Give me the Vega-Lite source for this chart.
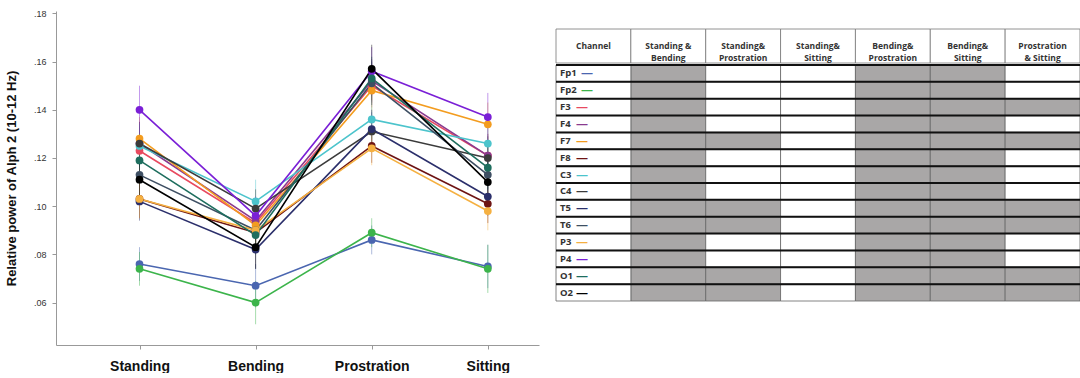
{
  "$schema": "https://vega.github.io/schema/vega-lite/v6.json",
  "padding": {"left": 5, "top": 9, "right": 0, "bottom": 0},
  "background": "white",
  "config": {"view": {"stroke": null}, "font": "Liberation Sans"},
  "datasets": {
    "power": [
      {"ch": "Fp1", "pos": "Standing", "v": 0.076, "lo": 0.069, "hi": 0.083},
      {"ch": "Fp1", "pos": "Bending", "v": 0.067, "lo": 0.058, "hi": 0.076},
      {"ch": "Fp1", "pos": "Prostration", "v": 0.086, "lo": 0.080, "hi": 0.092},
      {"ch": "Fp1", "pos": "Sitting", "v": 0.075, "lo": 0.066, "hi": 0.084},
      {"ch": "Fp2", "pos": "Standing", "v": 0.074, "lo": 0.067, "hi": 0.081},
      {"ch": "Fp2", "pos": "Bending", "v": 0.060, "lo": 0.051, "hi": 0.069},
      {"ch": "Fp2", "pos": "Prostration", "v": 0.089, "lo": 0.083, "hi": 0.095},
      {"ch": "Fp2", "pos": "Sitting", "v": 0.074, "lo": 0.064, "hi": 0.084},
      {"ch": "F3", "pos": "Standing", "v": 0.123, "lo": 0.113, "hi": 0.133},
      {"ch": "F3", "pos": "Bending", "v": 0.093, "lo": 0.085, "hi": 0.101},
      {"ch": "F3", "pos": "Prostration", "v": 0.150, "lo": 0.141, "hi": 0.159},
      {"ch": "F3", "pos": "Sitting", "v": 0.121, "lo": 0.112, "hi": 0.130},
      {"ch": "F4", "pos": "Standing", "v": 0.126, "lo": 0.117, "hi": 0.135},
      {"ch": "F4", "pos": "Bending", "v": 0.094, "lo": 0.086, "hi": 0.102},
      {"ch": "F4", "pos": "Prostration", "v": 0.152, "lo": 0.143, "hi": 0.161},
      {"ch": "F4", "pos": "Sitting", "v": 0.121, "lo": 0.112, "hi": 0.130},
      {"ch": "F7", "pos": "Standing", "v": 0.128, "lo": 0.119, "hi": 0.137},
      {"ch": "F7", "pos": "Bending", "v": 0.092, "lo": 0.084, "hi": 0.100},
      {"ch": "F7", "pos": "Prostration", "v": 0.148, "lo": 0.139, "hi": 0.157},
      {"ch": "F7", "pos": "Sitting", "v": 0.134, "lo": 0.125, "hi": 0.143},
      {"ch": "F8", "pos": "Standing", "v": 0.103, "lo": 0.095, "hi": 0.111},
      {"ch": "F8", "pos": "Bending", "v": 0.089, "lo": 0.081, "hi": 0.097},
      {"ch": "F8", "pos": "Prostration", "v": 0.125, "lo": 0.118, "hi": 0.132},
      {"ch": "F8", "pos": "Sitting", "v": 0.101, "lo": 0.093, "hi": 0.109},
      {"ch": "C3", "pos": "Standing", "v": 0.125, "lo": 0.116, "hi": 0.134},
      {"ch": "C3", "pos": "Bending", "v": 0.102, "lo": 0.093, "hi": 0.111},
      {"ch": "C3", "pos": "Prostration", "v": 0.136, "lo": 0.128, "hi": 0.144},
      {"ch": "C3", "pos": "Sitting", "v": 0.126, "lo": 0.117, "hi": 0.135},
      {"ch": "C4", "pos": "Standing", "v": 0.126, "lo": 0.117, "hi": 0.135},
      {"ch": "C4", "pos": "Bending", "v": 0.099, "lo": 0.091, "hi": 0.107},
      {"ch": "C4", "pos": "Prostration", "v": 0.131, "lo": 0.123, "hi": 0.139},
      {"ch": "C4", "pos": "Sitting", "v": 0.120, "lo": 0.111, "hi": 0.129},
      {"ch": "T5", "pos": "Standing", "v": 0.102, "lo": 0.094, "hi": 0.110},
      {"ch": "T5", "pos": "Bending", "v": 0.082, "lo": 0.074, "hi": 0.090},
      {"ch": "T5", "pos": "Prostration", "v": 0.132, "lo": 0.124, "hi": 0.140},
      {"ch": "T5", "pos": "Sitting", "v": 0.104, "lo": 0.096, "hi": 0.112},
      {"ch": "T6", "pos": "Standing", "v": 0.113, "lo": 0.104, "hi": 0.122},
      {"ch": "T6", "pos": "Bending", "v": 0.090, "lo": 0.082, "hi": 0.098},
      {"ch": "T6", "pos": "Prostration", "v": 0.151, "lo": 0.142, "hi": 0.160},
      {"ch": "T6", "pos": "Sitting", "v": 0.113, "lo": 0.104, "hi": 0.122},
      {"ch": "P3", "pos": "Standing", "v": 0.103, "lo": 0.095, "hi": 0.111},
      {"ch": "P3", "pos": "Bending", "v": 0.090, "lo": 0.082, "hi": 0.098},
      {"ch": "P3", "pos": "Prostration", "v": 0.124, "lo": 0.117, "hi": 0.131},
      {"ch": "P3", "pos": "Sitting", "v": 0.098, "lo": 0.090, "hi": 0.106},
      {"ch": "P4", "pos": "Standing", "v": 0.140, "lo": 0.130, "hi": 0.150},
      {"ch": "P4", "pos": "Bending", "v": 0.096, "lo": 0.088, "hi": 0.104},
      {"ch": "P4", "pos": "Prostration", "v": 0.156, "lo": 0.146, "hi": 0.166},
      {"ch": "P4", "pos": "Sitting", "v": 0.137, "lo": 0.127, "hi": 0.147},
      {"ch": "O1", "pos": "Standing", "v": 0.119, "lo": 0.110, "hi": 0.128},
      {"ch": "O1", "pos": "Bending", "v": 0.088, "lo": 0.080, "hi": 0.096},
      {"ch": "O1", "pos": "Prostration", "v": 0.153, "lo": 0.144, "hi": 0.162},
      {"ch": "O1", "pos": "Sitting", "v": 0.116, "lo": 0.107, "hi": 0.125},
      {"ch": "O2", "pos": "Standing", "v": 0.111, "lo": 0.102, "hi": 0.120},
      {"ch": "O2", "pos": "Bending", "v": 0.083, "lo": 0.074, "hi": 0.092},
      {"ch": "O2", "pos": "Prostration", "v": 0.157, "lo": 0.147, "hi": 0.167},
      {"ch": "O2", "pos": "Sitting", "v": 0.110, "lo": 0.101, "hi": 0.119}
    ],
    "sig": [
      {"ch": "Fp1", "SB": 1, "SP": 0, "SS": 0, "BP": 1, "BS": 1, "PS": 0},
      {"ch": "Fp2", "SB": 1, "SP": 0, "SS": 0, "BP": 1, "BS": 1, "PS": 0},
      {"ch": "F3", "SB": 1, "SP": 0, "SS": 0, "BP": 1, "BS": 1, "PS": 1},
      {"ch": "F4", "SB": 1, "SP": 0, "SS": 0, "BP": 1, "BS": 1, "PS": 0},
      {"ch": "F7", "SB": 1, "SP": 1, "SS": 0, "BP": 1, "BS": 1, "PS": 1},
      {"ch": "F8", "SB": 1, "SP": 0, "SS": 0, "BP": 1, "BS": 1, "PS": 0},
      {"ch": "C3", "SB": 1, "SP": 0, "SS": 0, "BP": 1, "BS": 1, "PS": 0},
      {"ch": "C4", "SB": 1, "SP": 0, "SS": 0, "BP": 1, "BS": 1, "PS": 0},
      {"ch": "T5", "SB": 1, "SP": 1, "SS": 0, "BP": 1, "BS": 1, "PS": 1},
      {"ch": "T6", "SB": 1, "SP": 1, "SS": 0, "BP": 1, "BS": 1, "PS": 1},
      {"ch": "P3", "SB": 1, "SP": 0, "SS": 0, "BP": 1, "BS": 1, "PS": 0},
      {"ch": "P4", "SB": 1, "SP": 0, "SS": 0, "BP": 1, "BS": 1, "PS": 0},
      {"ch": "O1", "SB": 1, "SP": 1, "SS": 0, "BP": 1, "BS": 1, "PS": 1},
      {"ch": "O2", "SB": 1, "SP": 1, "SS": 0, "BP": 1, "BS": 1, "PS": 1}
    ],
    "header": [
      {"key": "ch", "label": "Channel"},
      {"key": "SB", "label": "Standing &\nBending"},
      {"key": "SP", "label": "Standing&\nProstration"},
      {"key": "SS", "label": "Standing&\nSitting"},
      {"key": "BP", "label": "Bending&\nProstration"},
      {"key": "BS", "label": "Bending&\nSitting"},
      {"key": "PS", "label": "Prostration\n& Sitting"}
    ]
  },
  "hconcat": [
    {
      "width": 483,
      "height": 334,
      "data": {"name": "power"},
      "encoding": {
        "x": {
          "field": "pos", "type": "nominal",
          "scale": {"type": "point", "domain": ["Standing", "Bending", "Prostration", "Sitting"], "padding": 0.58, "align": 0.62},
          "axis": {"title": null, "labelAngle": 0, "labelFontSize": 14, "labelFontWeight": "bold", "labelColor": "#111", "labelPadding": 10, "tickSize": 4, "tickColor": "#999", "domainColor": "#999", "grid": false}
        },
        "color": {
          "field": "ch", "type": "nominal", "legend": null,
          "scale": {
            "domain": ["Fp1", "Fp2", "F3", "F4", "F7", "F8", "C3", "C4", "T5", "T6", "P3", "P4", "O1", "O2"],
            "range": ["#4A66B0", "#3CB44B", "#E84A5F", "#8B3A8F", "#F39C1F", "#6E1414", "#4CC4CC", "#3B3B3B", "#2B2F6B", "#3E4F63", "#F5B041", "#7A1FD6", "#1E6E5E", "#000000"]
          }
        }
      },
      "layer": [
        {
          "mark": {"type": "rule", "strokeWidth": 1, "opacity": 0.45},
          "encoding": {
            "y": {"field": "lo", "type": "quantitative"},
            "y2": {"field": "hi"}
          }
        },
        {
          "mark": {"type": "line", "strokeWidth": 1.6},
          "encoding": {
            "y": {
              "field": "v", "type": "quantitative",
              "scale": {"domain": [0.0424, 0.181], "zero": false, "nice": false},
              "axis": {
                "title": "Relative power of Alph 2 (10-12 Hz)", "titleFontSize": 13, "titleFontWeight": "bold", "titleColor": "#111", "titlePadding": 15,
                "values": [0.06, 0.08, 0.1, 0.12, 0.14, 0.16, 0.18],
                "labelExpr": "substring(format(datum.value, '.2f'), 1)",
                "labelFontSize": 9, "labelColor": "#333", "labelPadding": 6, "tickSize": 4, "tickColor": "#999", "domainColor": "#999", "grid": false
              }
            }
          }
        },
        {
          "mark": {"type": "point", "filled": true, "size": 60, "opacity": 1},
          "encoding": {"y": {"field": "v", "type": "quantitative"}}
        }
      ]
    },
    {
      "spacing": 0,
      "vconcat": [
        {
          "width": 524,
          "height": 17,
          "data": {"values": [{}]},
          "mark": {"type": "text"},
          "encoding": {"text": {"value": ""}}
        },
        {
          "width": 524,
          "height": 34,
          "data": {"name": "header"},
          "encoding": {
            "x": {"field": "key", "type": "nominal", "scale": {"domain": ["ch", "SB", "SP", "SS", "BP", "BS", "PS"], "paddingInner": 0, "paddingOuter": 0}, "axis": null}
          },
          "layer": [
            {"mark": {"type": "rect", "fill": "white", "stroke": "#777", "strokeWidth": 0.8}},
            {"mark": {"type": "text", "lineBreak": "\n", "font": "Open Sans", "fontSize": 8.5, "fontWeight": "bold", "color": "#333", "lineHeight": 12}, "encoding": {"text": {"field": "label"}}}
          ]
        },
        {
          "width": 524,
          "height": 236,
          "data": {"name": "sig"},
          "layer": [
            {
              "transform": [{"fold": ["SB", "SP", "SS", "BP", "BS", "PS"], "as": ["key", "value"]}],
              "mark": {"type": "rect", "stroke": "#666", "strokeWidth": 0.8},
              "encoding": {
                "x": {"field": "key", "type": "nominal", "scale": {"domain": ["ch", "SB", "SP", "SS", "BP", "BS", "PS"], "paddingInner": 0, "paddingOuter": 0}, "axis": null},
                "y": {"field": "ch", "type": "nominal", "scale": {"domain": ["Fp1", "Fp2", "F3", "F4", "F7", "F8", "C3", "C4", "T5", "T6", "P3", "P4", "O1", "O2"], "paddingInner": 0, "paddingOuter": 0}, "axis": null},
                "fill": {"condition": {"test": "datum.value == 1", "value": "#A9A7A7"}, "value": "#FFFFFF"}
              }
            },
            {
              "mark": {"type": "rect", "fill": "white", "stroke": "#666", "strokeWidth": 0.8},
              "encoding": {
                "x": {"datum": "ch", "type": "nominal"},
                "y": {"field": "ch", "type": "nominal"}
              }
            },
            {
              "mark": {"type": "rule", "color": "#111", "strokeWidth": 2},
              "encoding": {"y": {"field": "ch", "type": "nominal", "bandPosition": 0}}
            },
            {
              "mark": {"type": "text", "align": "left", "dx": 4, "font": "Open Sans", "fontSize": 9.5, "fontWeight": "bold", "color": "#333"},
              "encoding": {
                "x": {"datum": "ch", "type": "nominal", "bandPosition": 0},
                "y": {"field": "ch", "type": "nominal"},
                "text": {"field": "ch"}
              }
            },
            {
              "transform": [{"filter": "length(datum.ch) == 3"}],
              "mark": {"type": "text", "align": "left", "dx": 25, "font": "Open Sans", "fontSize": 12, "fontWeight": "bold"},
              "encoding": {
                "x": {"datum": "ch", "type": "nominal", "bandPosition": 0},
                "y": {"field": "ch", "type": "nominal"},
                "text": {"value": "—"},
                "color": {"field": "ch", "type": "nominal", "legend": null}
              }
            },
            {
              "transform": [{"filter": "length(datum.ch) == 2"}],
              "mark": {"type": "text", "align": "left", "dx": 20, "font": "Open Sans", "fontSize": 12, "fontWeight": "bold"},
              "encoding": {
                "x": {"datum": "ch", "type": "nominal", "bandPosition": 0},
                "y": {"field": "ch", "type": "nominal"},
                "text": {"value": "—"},
                "color": {"field": "ch", "type": "nominal", "legend": null}
              }
            }
          ]
        }
      ]
    }
  ],
  "spacing": 16
}
